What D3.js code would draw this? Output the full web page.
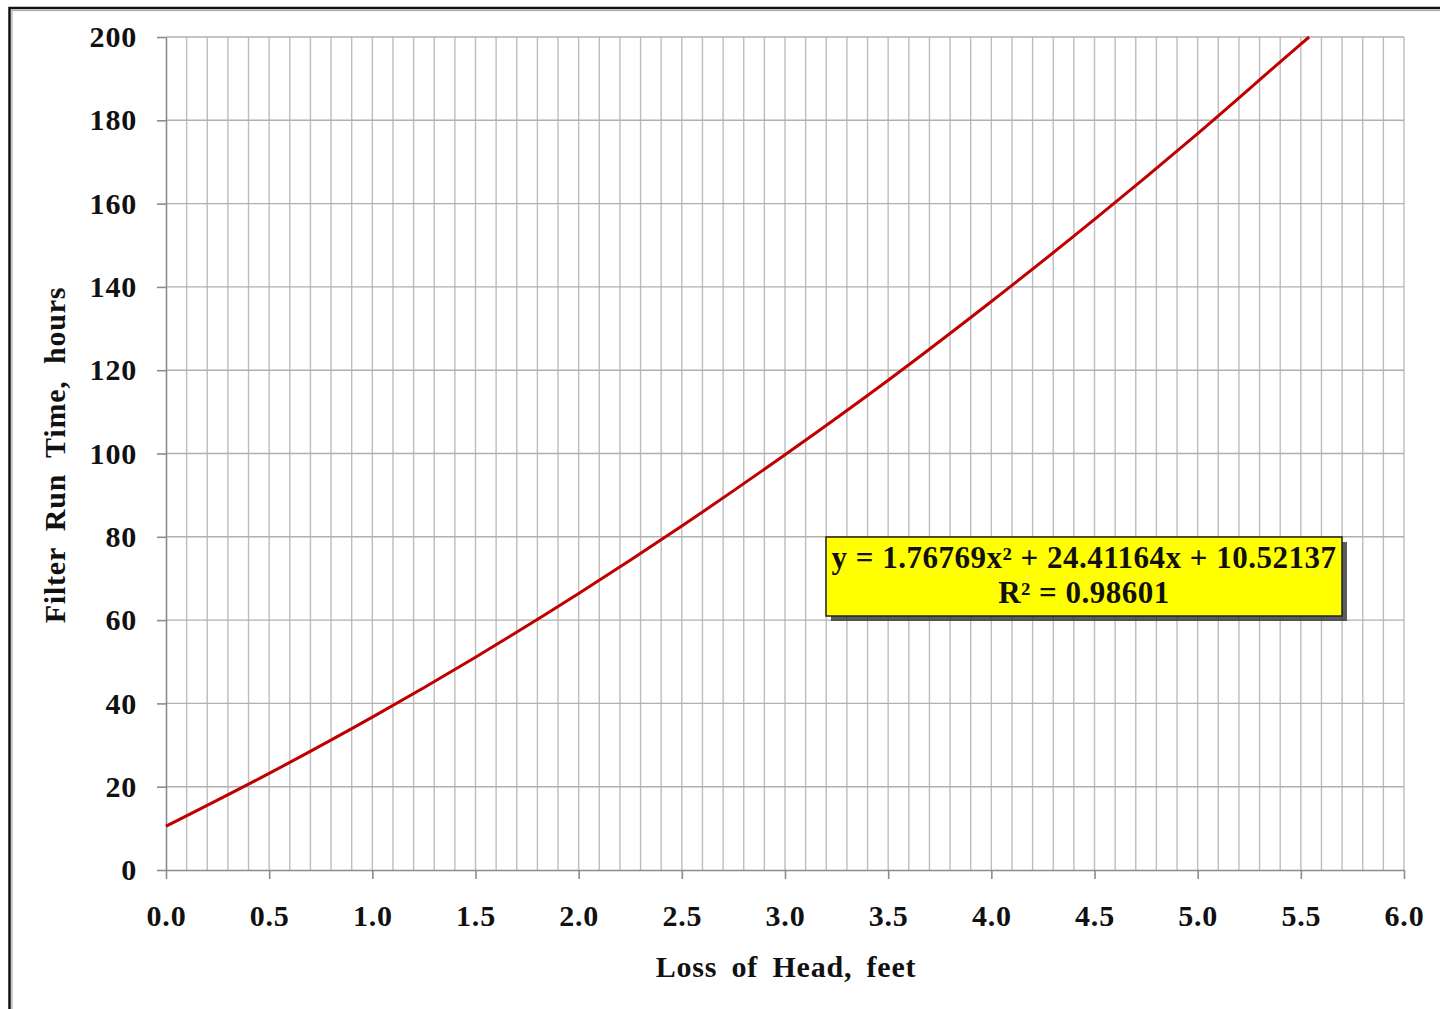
<!DOCTYPE html>
<html>
<head>
<meta charset="utf-8">
<script src="https://cdnjs.cloudflare.com/ajax/libs/d3/7.8.5/d3.min.js"></script>
<style>
  html, body { margin: 0; padding: 0; background: #fff; }
  svg { display: block; }
  text { font-family: "Liberation Serif", "DejaVu Serif", serif; font-weight: bold; fill: #111; }
</style>
</head>
<body>
<svg id="chart" width="1440" height="1009"></svg>
<script>
// Filter run time versus head loss (fitted curve points)
const lossOfHead = [0.0, 0.5, 1.0, 1.5, 2.0, 2.5, 3.0, 3.5, 4.0, 4.5, 5.0, 5.5, 5.54];
const runTime    = [10.5, 23.2, 36.7, 51.1, 66.4, 82.6, 99.7, 117.6, 136.5, 156.2, 176.8, 198.3, 200.0];

const xTickValues = [0, 0.5, 1, 1.5, 2, 2.5, 3, 3.5, 4, 4.5, 5, 5.5, 6];
const yTickValues = [0, 20, 40, 60, 80, 100, 120, 140, 160, 180, 200];

const xTitle = "Loss of Head, feet";
const yTitle = "Filter Run Time, hours";
const equationLines = ["y = 1.76769x\u00B2 + 24.41164x + 10.52137", "R\u00B2 = 0.98601"];

const svg = d3.select("#chart");

// outer frame (top and left edges fall inside the view)
svg.append("rect").attr("x", 9.5).attr("y", 8).attr("width", 1440).attr("height", 1010)
  .attr("fill", "none").attr("stroke", "#111").attr("stroke-width", 2.5);
svg.append("rect").attr("x", 12).attr("y", 10.5).attr("width", 1440).attr("height", 1010)
  .attr("fill", "none").attr("stroke", "#aaa").attr("stroke-width", 1.2);

const plot = { left: 166, right: 1404, top: 37, bottom: 870 };
const x = d3.scaleLinear().domain([0, 6]).range([plot.left, plot.right]);
const y = d3.scaleLinear().domain([0, 200]).range([plot.bottom, plot.top]);

// grid
const grid = svg.append("g");
grid.selectAll("line.v").data(d3.range(1, 61).map(i => i / 10)).join("line")
  .attr("class", "v")
  .attr("x1", d => x(d)).attr("x2", d => x(d))
  .attr("y1", plot.top).attr("y2", plot.bottom)
  .attr("stroke", "#bdbdbd").attr("stroke-width", 1.4);
grid.selectAll("line.h").data(yTickValues.slice(1)).join("line")
  .attr("class", "h")
  .attr("x1", plot.left).attr("x2", plot.right)
  .attr("y1", d => y(d)).attr("y2", d => y(d))
  .attr("stroke", "#b0b0b0").attr("stroke-width", 1.4);

// axes
const xAxis = d3.axisBottom(x).tickValues(xTickValues).tickFormat(d3.format(".1f"))
  .tickSize(9).tickSizeOuter(0).tickPadding(26);
const gx = svg.append("g").attr("transform", `translate(0,${plot.bottom})`).call(xAxis);
const yAxis = d3.axisLeft(y).tickValues(yTickValues).tickSize(9).tickSizeOuter(0).tickPadding(20);
const gy = svg.append("g").attr("transform", `translate(${plot.left},0)`).call(yAxis);

[gx, gy].forEach(g => {
  g.attr("font-family", null).attr("font-size", null);
  g.select(".domain").attr("stroke", "#8c8c8c").attr("stroke-width", 1.6);
  g.selectAll(".tick line").attr("stroke", "#8c8c8c").attr("stroke-width", 1.6);
  g.selectAll(".tick text").attr("font-size", 30).attr("letter-spacing", 0.8).attr("fill", "#111");
});

// curve
const pts = lossOfHead.map((d, i) => [d, runTime[i]]);
svg.append("path").datum(pts)
  .attr("fill", "none").attr("stroke", "#c00000").attr("stroke-width", 3)
  .attr("d", d3.line().x(d => x(d[0])).y(d => y(d[1])).curve(d3.curveMonotoneX));

// axis titles
svg.append("text").attr("x", (plot.left + plot.right) / 2 + 1).attr("y", 977)
  .attr("text-anchor", "middle").attr("font-size", 30).attr("letter-spacing", 0.8)
  .attr("word-spacing", 6).text(xTitle);
svg.append("text").attr("transform", `translate(65,455) rotate(-90)`)
  .attr("text-anchor", "middle").attr("font-size", 30).attr("letter-spacing", 0.8)
  .attr("word-spacing", 8).text(yTitle);

// equation box
const bx = 826, by = 537, bw = 516, bh = 79;
svg.append("rect").attr("x", bx + 5).attr("y", by + 5).attr("width", bw).attr("height", bh)
  .attr("fill", "#333").attr("opacity", 0.8);
svg.append("rect").attr("x", bx).attr("y", by).attr("width", bw).attr("height", bh)
  .attr("fill", "#ffff00").attr("stroke", "#222").attr("stroke-width", 1.5);
svg.append("text").attr("x", bx + bw / 2).attr("y", by + 31).attr("text-anchor", "middle")
  .attr("font-size", 31).attr("letter-spacing", 0.5).text(equationLines[0]);
svg.append("text").attr("x", bx + bw / 2).attr("y", by + 66).attr("text-anchor", "middle")
  .attr("font-size", 31).attr("letter-spacing", 0.5).text(equationLines[1]);
</script>
</body>
</html>
